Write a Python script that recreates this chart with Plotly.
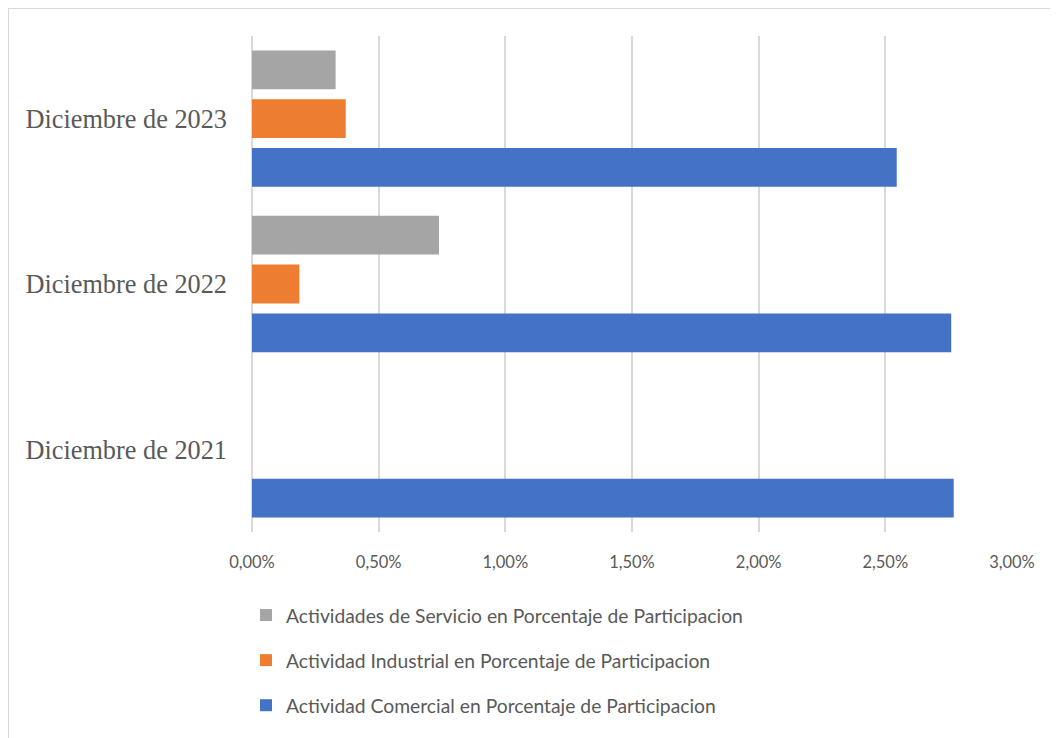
import plotly.graph_objects as go

categories = ["Diciembre de 2021", "Diciembre de 2022", "Diciembre de 2023"]
comercial = [0.0277, 0.0276, 0.02545]
industrial = [0.0, 0.00187, 0.0037]
servicio = [0.0, 0.00738, 0.0033]
x_ticks = [0, 0.005, 0.01, 0.015, 0.02, 0.025, 0.03]

names = [
    "Actividad Comercial en Porcentaje de Participacion",
    "Actividad Industrial en Porcentaje de Participacion",
    "Actividades de Servicio en Porcentaje de Participacion",
]
colors = ["#4472C4", "#ED7D31", "#A5A5A5"]
series = [comercial, industrial, servicio]
ranks = [3, 2, 1]

fig = go.Figure()
for i, (nm, col, vals) in enumerate(zip(names, colors, series)):
    fig.add_trace(go.Bar(
        y=categories, x=vals, orientation="h", name=nm,
        marker=dict(color=col, line=dict(width=0)),
        legendgroup=f"g{i}", legendrank=ranks[i],
    ))

# page has an 8px body margin; work in page coordinates and convert
OFF = 8
W, H = 1058 - OFF, 738 - OFF
L, T = 252 - OFF, 36 - OFF
R = W - (1012 - OFF)
B = H - (532 - OFF)
pw, ph = W - L - R, H - T - B

def px_x(x):
    return (x - OFF - L) / pw

def px_y(y):
    return (H - B - (y - OFF)) / ph

fig.update_layout(
    width=W, height=H,
    margin=dict(l=L, r=R, t=T, b=B, autoexpand=False),
    paper_bgcolor="white", plot_bgcolor="white",
    barmode="group", bargap=0.115, bargroupgap=0.205,
    separators=",.",
    showlegend=True,
    legend=dict(
        x=px_x(246), y=px_y(596), xanchor="left", yanchor="top",
        orientation="v", traceorder="grouped", tracegroupgap=17,
        font=dict(family="Lato", size=19.3, color="#595959"),
        bgcolor="rgba(0,0,0,0)",
    ),
    xaxis=dict(
        range=[0, 0.03], tickvals=x_ticks, tickformat=".2%",
        showgrid=True, gridcolor="#D9D9D9", gridwidth=1.5,
        zeroline=True, zerolinecolor="#D9D9D9", zerolinewidth=1.5,
        showline=False, ticks="",
        tickfont=dict(family="Lato", size=16.5, color="#595959"),
        ticklabelstandoff=18, fixedrange=True,
    ),
    yaxis=dict(
        type="category", categoryorder="array", categoryarray=categories,
        showgrid=False, zeroline=False, showline=False, ticks="",
        tickfont=dict(family="Liberation Serif", size=26.3, color="#595959"),
        ticklabelstandoff=24, fixedrange=True,
    ),
    shapes=[
        dict(type="line", xref="paper", yref="paper",
             x0=px_x(8), x1=px_x(1070), y0=px_y(8), y1=px_y(8),
             line=dict(color="#D9D9D9", width=2)),
        dict(type="line", xref="paper", yref="paper",
             x0=px_x(8), x1=px_x(8), y0=px_y(8), y1=px_y(760),
             line=dict(color="#D9D9D9", width=2)),
    ],
)

fig.write_html("out.html")
